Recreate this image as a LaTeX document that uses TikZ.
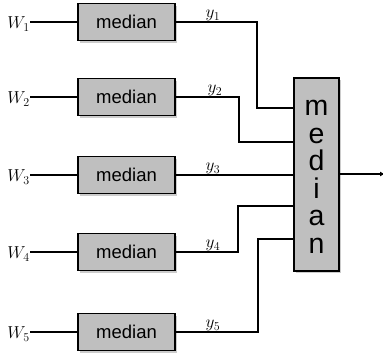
\documentclass[tikz,border=0pt]{standalone}
\usepackage{fontspec}
\setsansfont{Liberation Sans}
\usetikzlibrary{shadows,arrows.meta}
\begin{document}
\begin{tikzpicture}[x=1pt,y=-1pt,
  box/.style={draw=black,line width=1.3pt,fill=black!25,drop shadow={shadow xshift=2pt,shadow yshift=-2pt,opacity=0.4},inner sep=0pt},
  wire/.style={line width=1.1pt},
  lab/.style={font=\fontsize{18}{18}\selectfont,inner sep=0pt},
  ylab/.style={font=\fontsize{17}{17}\selectfont,inner sep=1pt,anchor=south}]
\useasboundingbox (0,0) rectangle (383,356);
\foreach \i/\y in {1/22,2/97,3/175,4/252,5/332}{
  \node[box,minimum width=97pt,minimum height=37pt,font=\sffamily\fontsize{18.5}{18.5}\selectfont] (m\i) at (126.5,\y) {median};
  \node[lab,anchor=east] (w\i) at (30,\y+2) {$W_{\i}$};
  \draw[wire] (w\i.east |- m\i.west) -- (m\i.west);
}
\node[box,minimum width=45pt,minimum height=193pt] (M) at (316.5,174.5) {};
\node[font=\sffamily\fontsize{28.5}{27.6}\selectfont,inner sep=0pt,align=center,anchor=north] (T) at (316.5,100) {m\\e\\d\\i\\a\\n};
\coordinate (in1) at (M.west |- 0,108);
\coordinate (in2) at (M.west |- 0,142);
\coordinate (in3) at (M.west |- 0,175);
\coordinate (in4) at (M.west |- 0,206);
\coordinate (in5) at (M.west |- 0,239);
\draw[wire] (m1.east) -| (257,108) -- (in1);
\draw[wire] (m2.east) -| (239,142) -- (in2);
\draw[wire] (m3.east) -- (in3);
\draw[wire] (m4.east) -| (238,206) -- (in4);
\draw[wire] (m5.east) -| (258,239) -- (in5);
\node[ylab] (y1) at (213,22) {$y_1$};
\node[ylab] (y2) at (215,97) {$y_2$};
\node[ylab] (y3) at (213,175) {$y_3$};
\node[ylab] (y4) at (213,252) {$y_4$};
\node[ylab] (y5) at (213,332) {$y_5$};
\coordinate (out) at (385,174);
\draw[wire,-{Latex[length=5pt,width=5pt]}] (M.east |- out) -- (out);
\end{tikzpicture}
\end{document}
